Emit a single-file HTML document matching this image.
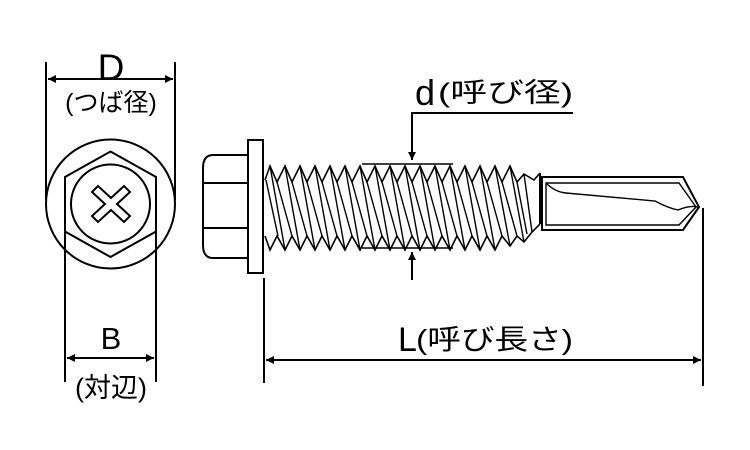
<!DOCTYPE html>
<html><head><meta charset="utf-8"><style>
html,body{margin:0;padding:0;background:#fff;}
svg{display:block}
text{font-family:"Liberation Sans","Noto Sans CJK JP",sans-serif;fill:#000}
</style></head><body>
<svg width="750" height="450" viewBox="0 0 750 450" xmlns="http://www.w3.org/2000/svg">
<defs>
<marker id="a" viewBox="0 0 10 10" refX="10" refY="5" markerWidth="10" markerHeight="8" markerUnits="userSpaceOnUse" orient="auto-start-reverse"><path d="M0,0 L10,5 L0,10 Z" fill="#000"/></marker>
<marker id="b" viewBox="0 0 10 10" refX="10" refY="5" markerWidth="16" markerHeight="8" markerUnits="userSpaceOnUse" orient="auto-start-reverse"><path d="M0,0 L10,5 L0,10 Z" fill="#000"/></marker>
</defs>
<g fill="none" stroke="#000" stroke-width="2">
<line x1="46" y1="62" x2="46" y2="200"/>
<line x1="175" y1="62" x2="175" y2="200"/>
<line x1="48" y1="79" x2="173" y2="79" marker-start="url(#b)" marker-end="url(#b)"/>
<circle cx="110.5" cy="204" r="64.5"/>
<polygon points="110.5,151.5 156,177 156,231.5 110.5,257 65,231.5 65,177"/>
<circle cx="110.5" cy="204" r="39.5"/>
<path d="M98,186 L111,198 L124,186 L130,192 L117,204 L130,216 L124,222 L111,210 L98,222 L92,216 L105,204 L92,192 Z" stroke-width="2"/>
<line x1="65" y1="231" x2="65" y2="382"/>
<line x1="156" y1="231" x2="156" y2="382"/>
<line x1="67" y1="358" x2="154" y2="358" marker-start="url(#b)" marker-end="url(#b)"/>
<path d="M248,155 L213,155 Q203,155 203,168 L203,245 Q203,258 213,258 L248,258"/>
<line x1="203" y1="183" x2="248" y2="183"/>
<line x1="203" y1="228" x2="248" y2="228"/>
<rect x="248" y="140" width="15" height="133"/>
<path d="M265,180 L270,166 L277,182 L285,166 L292,182 L300,166 L307,182 L315,166 L322,182 L330,166 L337,182 L345,166 L352,182 L360,166 L367,182 L375,166 L382,182 L390,166 L397,182 L405,166 L412,182 L420,166 L427,182 L435,166 L442,182 L450,166 L457,182 L465,166 L472,182 L480,166 L487,182 L495,166 L502,182 L510,166 L517,182 L524,174 L534,180 L540,173" stroke-width="1.6"/>
<path d="M265,236 L270,250 L277,236 L285,250 L292,236 L300,250 L307,236 L315,250 L322,236 L330,250 L337,236 L345,250 L352,236 L360,250 L367,236 L375,250 L382,236 L390,250 L397,236 L405,250 L412,236 L420,250 L427,236 L435,250 L442,236 L450,250 L457,236 L465,250 L472,236 L480,250 L487,236 L495,250 L502,236 L510,246 L517,236 L524,242 L532,232 L540,224" stroke-width="1.6"/>
<g stroke-width="1.4">
<line x1="266" y1="180" x2="278" y2="236"/><line x1="270" y1="166" x2="285" y2="250"/>
<line x1="285" y1="166" x2="300" y2="250"/><line x1="277" y1="182" x2="292" y2="236"/>
<line x1="300" y1="166" x2="315" y2="250"/><line x1="292" y1="182" x2="307" y2="236"/>
<line x1="315" y1="166" x2="330" y2="250"/><line x1="307" y1="182" x2="322" y2="236"/>
<line x1="330" y1="166" x2="345" y2="250"/><line x1="322" y1="182" x2="337" y2="236"/>
<line x1="345" y1="166" x2="360" y2="250"/><line x1="337" y1="182" x2="352" y2="236"/>
<line x1="360" y1="166" x2="375" y2="250"/><line x1="352" y1="182" x2="367" y2="236"/>
<line x1="375" y1="166" x2="390" y2="250"/><line x1="367" y1="182" x2="382" y2="236"/>
<line x1="390" y1="166" x2="405" y2="250"/><line x1="382" y1="182" x2="397" y2="236"/>
<line x1="405" y1="166" x2="420" y2="250"/><line x1="397" y1="182" x2="412" y2="236"/>
<line x1="420" y1="166" x2="435" y2="250"/><line x1="412" y1="182" x2="427" y2="236"/>
<line x1="435" y1="166" x2="450" y2="250"/><line x1="427" y1="182" x2="442" y2="236"/>
<line x1="450" y1="166" x2="465" y2="250"/><line x1="442" y1="182" x2="457" y2="236"/>
<line x1="465" y1="166" x2="480" y2="250"/><line x1="457" y1="182" x2="472" y2="236"/>
<line x1="480" y1="166" x2="495" y2="250"/><line x1="472" y1="182" x2="487" y2="236"/>
<line x1="495" y1="166" x2="510" y2="246"/><line x1="487" y1="182" x2="502" y2="236"/>
<line x1="510" y1="166" x2="524" y2="242"/><line x1="502" y1="182" x2="517" y2="236"/>
<line x1="524" y1="174" x2="532" y2="232"/><line x1="517" y1="182" x2="527" y2="234"/>
</g>
<line x1="540" y1="173" x2="540" y2="224"/>
<line x1="362" y1="164" x2="453" y2="164" stroke-width="1.6"/>
<line x1="362" y1="248" x2="453" y2="248" stroke-width="1.6"/>
<path d="M542,177 L683,177 L699,207 L683,230 L542,230 Z"/>
<path d="M546,183 L679,183 L696,207 L679,225 L546,225 Z" stroke-width="1.4"/>
<path d="M546,183 Q555,192 566,193 L655,201 Q668,208 678,210 Q690,205 698,207" stroke-width="1.4"/>
<polyline points="573,113 412,113 412,160" marker-end="url(#a)"/>
<line x1="412" y1="280" x2="412" y2="252" marker-end="url(#a)"/>
<line x1="264" y1="278" x2="264" y2="383"/>
<line x1="703" y1="208" x2="703" y2="386"/>
<line x1="266" y1="360" x2="701" y2="360" marker-start="url(#b)" marker-end="url(#b)"/>
</g>
<text x="111" y="80" font-size="37" text-anchor="middle">D</text>
<text x="111" y="111" font-size="25" text-anchor="middle">(つば径)</text>
<text x="111" y="349" font-size="31" text-anchor="middle">B</text>
<text x="111" y="397" font-size="27" text-anchor="middle">(対辺)</text>
<text x="415" y="105" font-size="36">d</text>
<text x="438" y="102" font-size="27" textLength="135" lengthAdjust="spacingAndGlyphs">(呼び径)</text>
<text x="398" y="351" font-size="34">L</text>
<text x="416" y="349" font-size="28" textLength="157" lengthAdjust="spacingAndGlyphs">(呼び長さ)</text>
</svg>
</body></html>
